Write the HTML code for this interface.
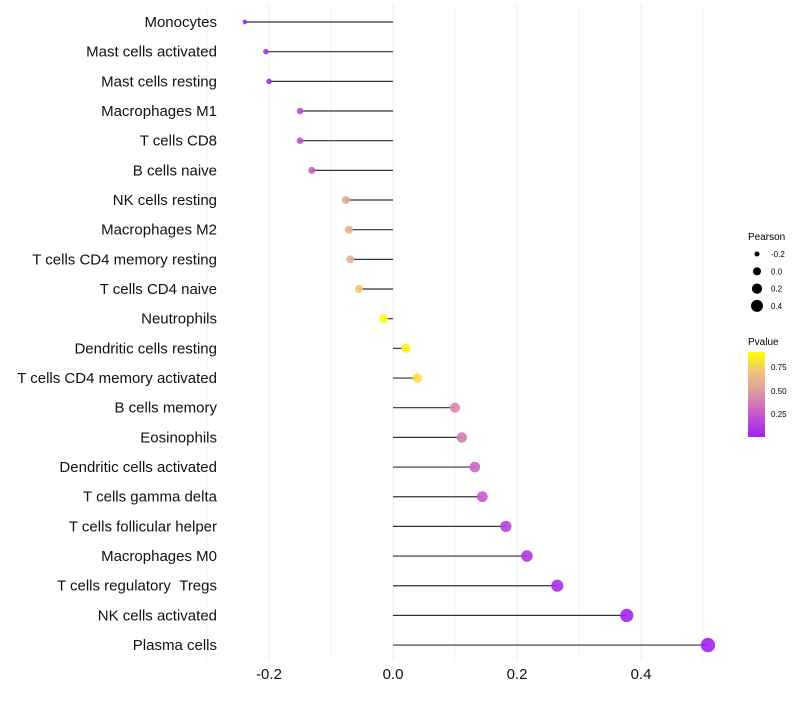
<!DOCTYPE html>
<html><head><meta charset="utf-8"><style>
body{margin:0;background:#fff;font-family:"Liberation Sans",sans-serif}
</style></head><body>
<svg id="chart" width="800" height="700" xmlns="http://www.w3.org/2000/svg">
<defs><linearGradient id="pg" x1="0" y1="1" x2="0" y2="0">
<stop offset="0" stop-color="#A020F0"/><stop offset="0.3" stop-color="#C860C8"/><stop offset="0.55" stop-color="#E0A0A0"/><stop offset="0.75" stop-color="#EEC080"/><stop offset="1" stop-color="#FFFF00"/></linearGradient></defs>
<g id="grid"></g><g id="marks"></g><g id="labels"></g>
<g font-size="10" fill="#000">
<text x="748" y="240">Pearson</text>
<g id="sizeleg"></g>
<text x="748" y="345">Pvalue</text>
<rect x="748" y="352" width="17" height="85" fill="url(#pg)"/>
<g font-size="8"><text x="771" y="370">0.75</text><text x="771" y="394">0.50</text><text x="771" y="417">0.25</text></g>
</g>
</svg>
<script>
const categories=["Monocytes","Mast cells activated","Mast cells resting","Macrophages M1","T cells CD8","B cells naive","NK cells resting","Macrophages M2","T cells CD4 memory resting","T cells CD4 naive","Neutrophils","Dendritic cells resting","T cells CD4 memory activated","B cells memory","Eosinophils","Dendritic cells activated","T cells gamma delta","T cells follicular helper","Macrophages M0","T cells regulatory\u00a0\u00a0Tregs","NK cells activated","Plasma cells"];
const pearson=[-0.239,-0.205,-0.2,-0.15,-0.15,-0.131,-0.076,-0.071,-0.069,-0.055,-0.015,0.021,0.039,0.1,0.111,0.132,0.144,0.182,0.216,0.265,0.377,0.508];
const pvalue=[0.03,0.05,0.06,0.2,0.2,0.25,0.55,0.6,0.6,0.72,0.91,0.88,0.8,0.42,0.38,0.3,0.25,0.15,0.1,0.05,0.02,0.01];
const xTicks=[-0.2,0,0.2,0.4];
const xTickLabels=["-0.2","0.0","0.2","0.4"];
const sizeLegend=[-0.2,0,0.2,0.4];
const NS="http://www.w3.org/2000/svg";
const xs=v=>393+v*620;
const ys=i=>22+i*29.67;
const rs=v=>1.12*Math.sqrt(Math.max(1,16.2+49.6*v));
const stops=[[0,[160,32,240]],[0.3,[200,96,200]],[0.55,[224,160,160]],[0.75,[238,192,128]],[1,[255,255,0]]];
function col(p){const t=Math.max(0,Math.min(1,p/0.91));
 let k=0;while(k<stops.length-2&&t>stops[k+1][0])k++;
 const a=stops[k],b=stops[k+1];const u=(t-a[0])/(b[0]-a[0]);
 return `rgb(${a[1].map((c,j)=>Math.round(c+(b[1][j]-c)*u)).join(',')})`;}
function mk(tag,attrs,parent){const e=document.createElementNS(NS,tag);for(const k in attrs)e.setAttribute(k,attrs[k]);parent.appendChild(e);return e;}
const grid=document.getElementById('grid'),marks=document.getElementById('marks'),labels=document.getElementById('labels');
[-0.3,-0.1,0.1,0.3,0.5].forEach(v=>{const l=mk('line',{x1:xs(v),x2:xs(v),y1:5,y2:660,stroke:'#f3f3f3','stroke-width':1},grid);

});
xTicks.forEach((v,i)=>{const l=mk('line',{x1:xs(v),x2:xs(v),y1:5,y2:660,stroke:'#ebebeb','stroke-width':1},grid);


const t=mk('text',{x:xs(v),y:679,'text-anchor':'middle','font-size':15,fill:'#111'},labels);t.textContent=xTickLabels[i];

});
categories.forEach((c,i)=>{const y=ys(i);
const t=mk('text',{x:217,y:y+5,'text-anchor':'end','font-size':15,fill:'#111'},labels);t.textContent=c;


const l=mk('line',{x1:xs(0),x2:xs(pearson[i]),y1:y,y2:y,stroke:'#333','stroke-width':1.2},marks);


const d=mk('circle',{cx:xs(pearson[i]),cy:y,r:rs(pearson[i]),fill:col(pvalue[i]),'fill-opacity':0.9},marks);

});
const sl=document.getElementById('sizeleg');
sizeLegend.forEach((v,i)=>{const y=254+i*17.3;
const d=mk('circle',{cx:757,cy:y,r:rs(v)/1.12,fill:'#000'},sl);


const t=mk('text',{x:771,y:y+3,'font-size':8},sl);t.textContent=v===0?"0.0":String(v);

});
</script>
</body></html>
